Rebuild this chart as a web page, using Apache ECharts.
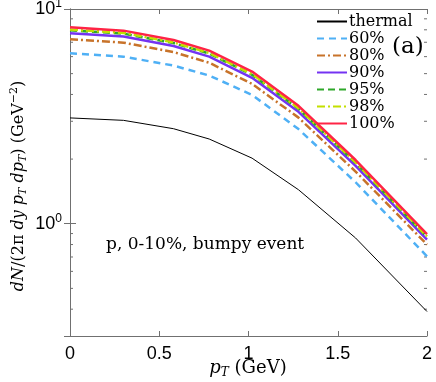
<!DOCTYPE html>
<html>
<head>
<meta charset="utf-8">
<script src="https://cdn.jsdelivr.net/npm/echarts@6/dist/echarts.min.js"></script>
<style>
  html, body { margin: 0; padding: 0; background: #fff; }
  #chart { width: 436px; height: 382px; }
</style>
</head>
<body>
<div id="chart"></div>
<script>
// pT grid (GeV) and spectra
const pT = [0, 0.3, 0.58, 0.78, 1.02, 1.28, 1.6, 2.0];
const thermal = [3.11, 3.03, 2.77, 2.48, 2.02, 1.44, 0.858, 0.39];
const p60 = [6.22, 6.00, 5.45, 4.90, 3.98, 2.76, 1.56, 0.705];
const p80 = [7.23, 6.97, 6.30, 5.62, 4.48, 3.12, 1.75, 0.80];
const p90 = [7.71, 7.44, 6.72, 6.00, 4.78, 3.32, 1.86, 0.843];
const p95 = [7.96, 7.68, 6.94, 6.20, 4.94, 3.43, 1.92, 0.867];
const p98 = [8.02, 7.74, 6.99, 6.24, 4.98, 3.45, 1.93, 0.873];
const p100 = [8.22, 7.93, 7.17, 6.40, 5.11, 3.54, 1.98, 0.895];

const seriesNames = ['thermal', '60%', '80%', '90%', '95%', '98%', '100%'];
const seriesData = [thermal, p60, p80, p90, p95, p98, p100];

const xTicks = [0, 0.5, 1, 1.5, 2];
const yMinorTicks = [0.4, 0.5, 0.6, 0.7, 0.8, 0.9, 2, 3, 4, 5, 6, 7, 8, 9];

const styles = [
  { color: '#000000', width: 1, type: 'solid' },
  { color: '#4fb0f5', width: 2.5, type: [7, 5] },
  { color: '#c8732a', width: 2.5, type: [8, 3, 2, 3] },
  { color: '#7433f2', width: 2.5, type: 'solid' },
  { color: '#2ea82a', width: 2.5, type: [7, 4] },
  { color: '#c3e000', width: 2.5, type: [8, 3, 2, 3] },
  { color: '#ff2445', width: 2.5, type: 'solid' }
];

const serif = 'DejaVu Serif';
const sans = 'Liberation Sans';
const frame = '#707070';

const chart = echarts.init(document.getElementById('chart'));

const option = {
  animation: false,
  grid: { left: 70, right: 9, top: 9, bottom: 46, outerBoundsMode: 'none', containLabel: false },
  legend: {
    orient: 'vertical',
    left: 316,
    top: 13,
    padding: 0,
    itemWidth: 30,
    itemHeight: 12,
    itemGap: 0,
    itemStyle: { opacity: 0 },
    data: seriesNames,
    textStyle: { fontFamily: serif, fontSize: 16, color: '#000', lineHeight: 17, padding: [0, 0, 0, -3] }
  },
  xAxis: [
    {
      type: 'value', min: 0, max: 2, interval: 0.5,
      axisLine: { lineStyle: { color: frame } },
      axisTick: { inside: true, length: 5, lineStyle: { color: frame } },
      splitLine: { show: false },
      axisLabel: {
        fontFamily: sans, fontSize: 18, color: '#000', margin: 9,
        formatter: v => xTicks.includes(v) ? String(v) : ''
      }
    },
    {
      type: 'value', min: 0, max: 2, interval: 0.5, position: 'top',
      axisLine: { lineStyle: { color: frame } },
      axisTick: { inside: true, length: 5, lineStyle: { color: frame } },
      splitLine: { show: false },
      axisLabel: { show: false }
    }
  ],
  yAxis: [
    {
      type: 'log', logBase: 10, min: 0.3, max: 10,
      axisLine: { show: true, lineStyle: { color: frame } },
      axisTick: { inside: true, length: 6, lineStyle: { color: frame } },
      splitLine: { show: false },
      axisLabel: {
        showMinLabel: false, margin: 8,
        formatter: v => {
          if (Math.abs(v - 1) < 1e-9) return '{b|10}{sup|0}';
          if (Math.abs(v - 10) < 1e-9) return '{b|10}{sup|1}';
          return '';
        },
        rich: {
          b: { fontFamily: sans, fontSize: 18, color: '#000' },
          sup: { fontFamily: sans, fontSize: 12, color: '#000', padding: [0, 0, 10, 0] }
        }
      }
    },
    {
      type: 'log', logBase: 10, min: 0.3, max: 10, position: 'right',
      axisLine: { show: true, lineStyle: { color: frame } },
      axisTick: { inside: true, length: 6, lineStyle: { color: frame } },
      splitLine: { show: false },
      axisLabel: { show: false }
    }
  ],
  series: seriesNames.map((name, i) => ({
    name: name,
    type: 'line',
    xAxisIndex: 0,
    yAxisIndex: 0,
    symbol: 'none',
    data: pT.map((x, j) => [x, seriesData[i][j]]),
    lineStyle: { color: styles[i].color, width: styles[i].width, type: styles[i].type },
    itemStyle: { color: styles[i].color },
    z: 2 + i
  }))
};

chart.setOption(option);

// minor log ticks on left and right frame + text annotations
const xl = chart.convertToPixel({ xAxisIndex: 0 }, 0);
const xr = chart.convertToPixel({ xAxisIndex: 0 }, 2);
const elements = [];
yMinorTicks.forEach(v => {
  const y = chart.convertToPixel({ yAxisIndex: 0 }, v);
  elements.push({ type: 'line', shape: { x1: xl, y1: y, x2: xl + 3, y2: y }, style: { stroke: frame, lineWidth: 1 } });
  elements.push({ type: 'line', shape: { x1: xr - 3, y1: y, x2: xr, y2: y }, style: { stroke: frame, lineWidth: 1 } });
});
// y axis title, rotated
elements.push({
  type: 'text', x: 19, y: 186, rotation: Math.PI / 2,
  style: {
    text: '{i|dN}/(2π {i|dy} {i|p}{sub|T} {i|dp}{sub|T}) (GeV{sup|−2})',
    fontFamily: serif, fontSize: 16, fill: '#000', align: 'center', verticalAlign: 'middle',
    rich: {
      i: { fontFamily: serif, fontStyle: 'italic', fontSize: 16 },
      sub: { fontFamily: serif, fontStyle: 'italic', fontSize: 11, padding: [9, 0, 0, 0] },
      sup: { fontFamily: serif, fontSize: 11, padding: [0, 0, 9, 0] }
    }
  }
});
// x axis title
elements.push({
  type: 'text', x: 248, y: 368,
  style: {
    text: '{i|p}{sub|T} (GeV)',
    fontFamily: serif, fontSize: 18, fill: '#000', align: 'center', verticalAlign: 'middle',
    rich: {
      i: { fontFamily: serif, fontStyle: 'italic', fontSize: 18 },
      sub: { fontFamily: serif, fontStyle: 'italic', fontSize: 12, padding: [9, 0, 0, 0] }
    }
  }
});
elements.push({
  type: 'text', left: 392, top: 36,
  style: { text: '(a)', fontFamily: serif, fontSize: 23, fill: '#000' }
});
elements.push({
  type: 'text', left: 106, top: 236,
  style: { text: 'p, 0-10%, bumpy event', fontFamily: serif, fontSize: 17, fill: '#000' }
});
chart.setOption({ graphic: { elements: elements } });
</script>
</body>
</html>
